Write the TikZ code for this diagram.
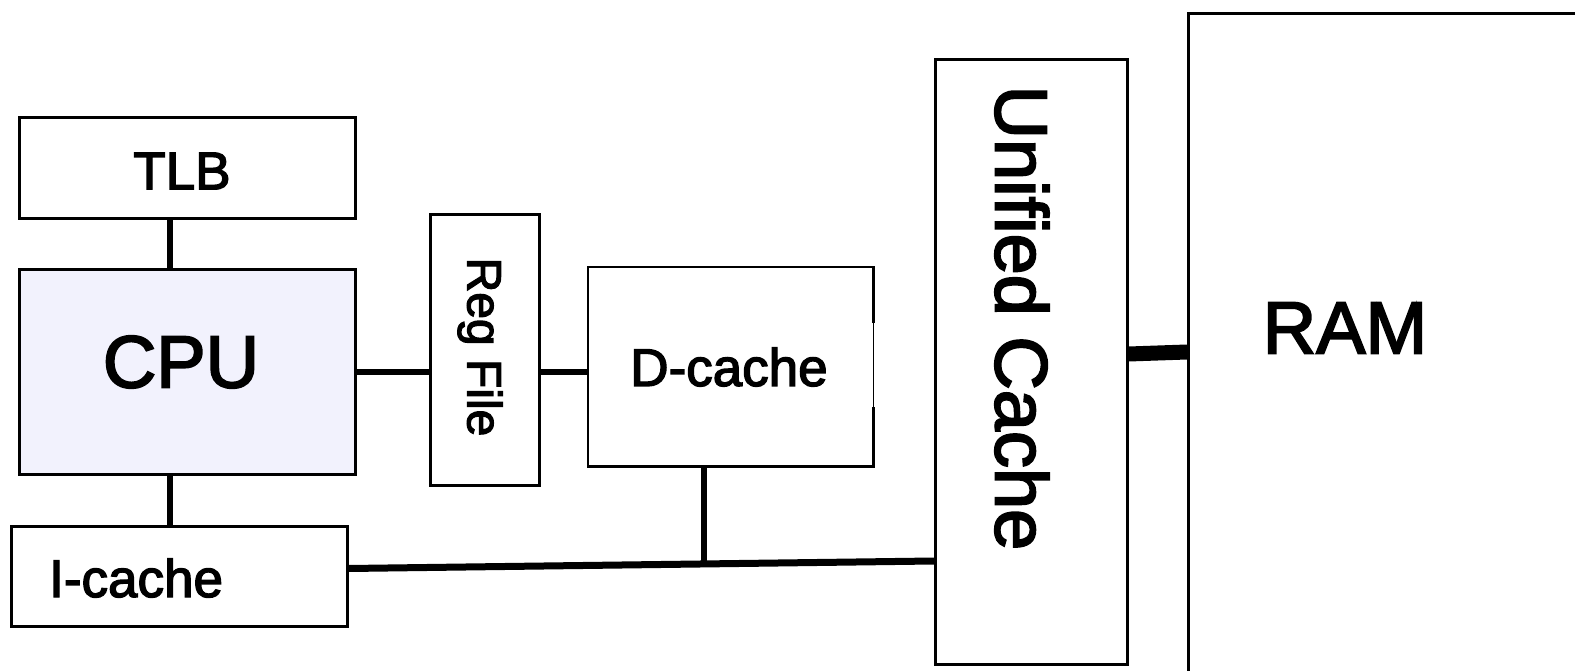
\documentclass[tikz,border=0pt]{standalone}
\usepackage{fontspec}
\setmainfont{Liberation Sans}[FakeBold=2.6]
\usetikzlibrary{calc}
\definecolor{cpufill}{RGB}{242,242,253}
\begin{document}
\begin{tikzpicture}[x=1pt,y=-1pt,
  box/.style={draw=black, line width=2.6pt, fill=white, inner sep=0pt, anchor=north west},
  link/.style={line width=6.5pt},
  bus/.style={line width=7pt},
  fat/.style={line width=15pt},
  f53/.style={font=\fontsize{53}{60}\selectfont},
  f48/.style={font=\fontsize{48}{56}\selectfont},
  f74/.style={font=\fontsize{74}{84}\selectfont}]
\useasboundingbox (0,0) rectangle (1575,671);
\clip (0,0) rectangle (1575,671);

% boxes
\node[box, minimum width=336pt, minimum height=101pt] (tlb) at (18,116) {};
\node[f53] at (182,171) {TLB};
\node[box, fill=cpufill, minimum width=336pt, minimum height=205pt] (cpu) at (18,268) {};
\node[f74] at (181,362) {CPU};
\node[box, minimum width=336pt, minimum height=100pt] (icache) at (10,525) {};
\node[f53, anchor=base west, inner sep=0pt] at (49,597) {I-cache};
\node[box, minimum width=109pt, minimum height=271pt] (reg) at (429,213) {};
\node[f48, rotate=-90] at (480,347) {Reg File};
\node[inner sep=0pt, minimum width=285pt, minimum height=199pt, anchor=north west, fill=white] (dcache) at (588,267) {};
\node[f53] at (729,367) {D-cache};
\node[box, minimum width=192pt, minimum height=605pt] (ucache) at (934,58) {};
\node[f74, rotate=-90] at (1022,318) {Unified Cache};
\node[box, minimum width=420pt, minimum height=700pt] (ram) at (1187,12) {};
\node[f74] at (1345,328) {RAM};

% D-cache outline: the right edge is thin in its middle part
\draw[line width=2.6pt] (dcache.east |- 0,323) |- (dcache.north west) |- (dcache.south east) -- (dcache.east |- 0,407);
\draw[line width=1pt] (dcache.east |- 0,323) -- (dcache.east |- 0,407);

% connectors
\coordinate (vx) at (170,0);
\draw[link] (tlb.south -| vx) -- (cpu.north -| vx);
\draw[link] (cpu.south -| vx) -- (icache.north -| vx);
\draw[link] (cpu.east) -- (reg.west |- cpu.east);
\draw[link] (reg.east |- cpu.east) -- (dcache.west |- cpu.east);

\coordinate (busL) at (icache.east |- 0,568.5);
\coordinate (busR) at (ucache.west |- 0,561);
\draw[bus] (busL) -- (busR);
\coordinate (busM) at ($(busL)!0.607!(busR)$);
\draw[link] (busM) -- (busM |- dcache.south);

\draw[fat] (ucache.east |- 0,354) -- (ram.west |- 0,352);
\end{tikzpicture}
\end{document}
